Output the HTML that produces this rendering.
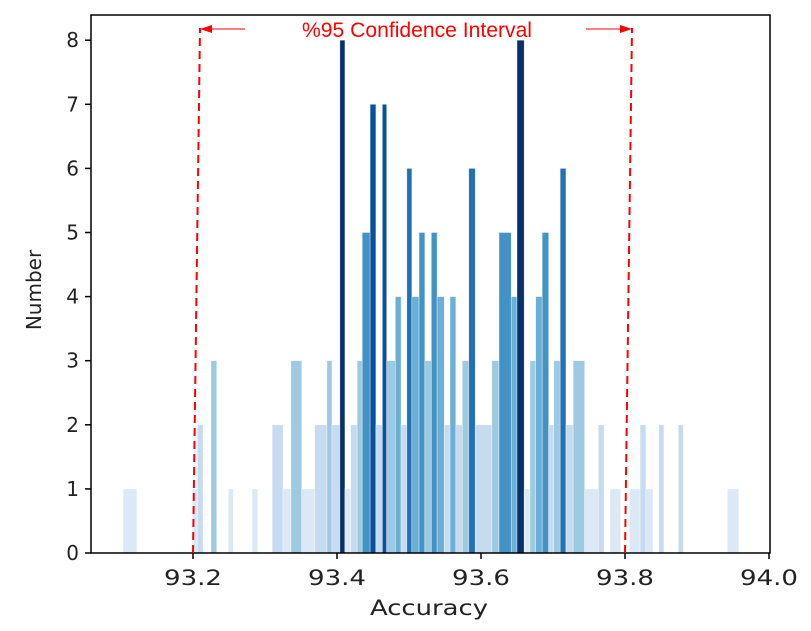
<!DOCTYPE html>
<html><head><meta charset="utf-8"><style>
body{margin:0;background:#fff;width:811px;height:626px;overflow:hidden}
text{font-family:"DejaVu Sans","Liberation Sans",sans-serif}
</style></head><body>
<svg id="chart" width="811" height="626" xmlns="http://www.w3.org/2000/svg">
<g id="bars"></g>
<g id="axes"></g>
<g id="annot"></g>
</svg>
<script>
const binStart=[93.103,93.199,93.206,93.225,93.249,93.282,93.310,93.325,93.336,93.351,93.369,93.386,93.393,93.404,93.411,93.419,93.428,93.435,93.446,93.454,93.463,93.469,93.481,93.489,93.497,93.504,93.514,93.522,93.531,93.539,93.549,93.557,93.565,93.574,93.583,93.592,93.615,93.625,93.642,93.650,93.660,93.668,93.676,93.685,93.694,93.701,93.710,93.718,93.728,93.744,93.763,93.779,93.806,93.821,93.829,93.847,93.874,93.942];
const binEnd=[93.122,93.206,93.214,93.233,93.256,93.290,93.325,93.336,93.351,93.369,93.386,93.393,93.404,93.411,93.419,93.428,93.435,93.446,93.454,93.463,93.469,93.481,93.489,93.497,93.504,93.514,93.522,93.531,93.539,93.549,93.557,93.565,93.574,93.583,93.592,93.615,93.625,93.642,93.650,93.660,93.668,93.676,93.685,93.694,93.701,93.710,93.718,93.728,93.744,93.763,93.771,93.794,93.821,93.829,93.839,93.854,93.881,93.958];
const counts=[1,1,2,3,1,1,2,1,3,1,2,3,2,8,1,2,3,5,7,2,7,3,4,2,6,4,5,3,5,4,2,4,2,3,6,2,3,5,4,8,1,3,4,5,2,3,6,2,3,1,2,1,1,2,1,2,2,1];
const xTicks=[93.2,93.4,93.6,93.8,94.0];
const yTicks=[0,1,2,3,4,5,6,7,8];
const ciBounds=[93.2,93.8];
const X0=91,X1=770,Y0=553,YT=15;
const xs=v=>193+(v-93.2)*720;
const ys=v=>553-v*64.1;
const pal=['#fff','#dbe9f6','#c6dbef','#9ecae1','#6baed6','#4292c6','#2171b5','#08519c','#08306b'];
const NS='http://www.w3.org/2000/svg';
function mk(t,a,p){const e=document.createElementNS(NS,t);for(const k in a)e.setAttribute(k,a[k]);p.appendChild(e);return e;}
const gb=document.getElementById('bars');
for(let i=0;i<counts.length;i++){
 const r=mk('rect',{x:xs(binStart[i]),y:ys(counts[i]),width:xs(binEnd[i])-xs(binStart[i]),height:Y0-ys(counts[i]),fill:pal[counts[i]],stroke:'#fff','stroke-width':0.6,'stroke-opacity':0.6},gb);
 
 
}
const ga=document.getElementById('axes');
const fr=mk('rect',{x:X0,y:YT,width:X1-X0,height:Y0-YT,fill:'none',stroke:'#000','stroke-width':1.5},ga);


xTicks.forEach(v=>{
 mk('line',{x1:xs(v),x2:xs(v),y1:Y0,y2:Y0+6,stroke:'#000','stroke-width':1.5},ga);
 const t=mk('text',{x:xs(v)-29,y:Y0+32,'font-size':21,fill:'#222',textLength:58,lengthAdjust:'spacingAndGlyphs'},ga);t.textContent=v.toFixed(1);
 
 
});
yTicks.forEach(v=>{
 mk('line',{x1:X0-6,x2:X0,y1:ys(v),y2:ys(v),stroke:'#000','stroke-width':1.5},ga);
 const t=mk('text',{x:X0-12,y:ys(v)+7,'text-anchor':'end','font-size':20,fill:'#222'},ga);t.textContent=v;
 
 
});
const xl=mk('text',{x:370,y:615,'font-size':21,fill:'#222',textLength:118,lengthAdjust:'spacingAndGlyphs'},ga);xl.textContent='Accuracy';


const yl=mk('text',{x:0,y:0,transform:'translate(41,290) rotate(-90)','text-anchor':'middle','font-size':20,fill:'#222'},ga);yl.textContent='Number';


const gn=document.getElementById('annot');
ciBounds.forEach((v,i)=>{
 const l=mk('line',{x1:xs(v),y1:Y0,x2:xs(v)+7,y2:28,stroke:'#f00','stroke-width':2,'stroke-dasharray':'8,5'},gn);
 
 
});
mk('line',{x1:245,y1:29,x2:210,y2:29,stroke:'#f00','stroke-width':1},gn);
mk('polygon',{points:'200,29 212,25 212,33',fill:'#f00'},gn);
mk('line',{x1:586,y1:29,x2:622,y2:29,stroke:'#f00','stroke-width':1},gn);
mk('polygon',{points:'632,29 620,25 620,33',fill:'#f00'},gn);
const ct=mk('text',{x:302,y:37,'font-size':21,fill:'#f00',textLength:230,lengthAdjust:'spacingAndGlyphs'},gn);
ct.setAttribute('style','font-family:"Liberation Sans",sans-serif');
ct.textContent='%95 Confidence Interval';


</script>
</body></html>
